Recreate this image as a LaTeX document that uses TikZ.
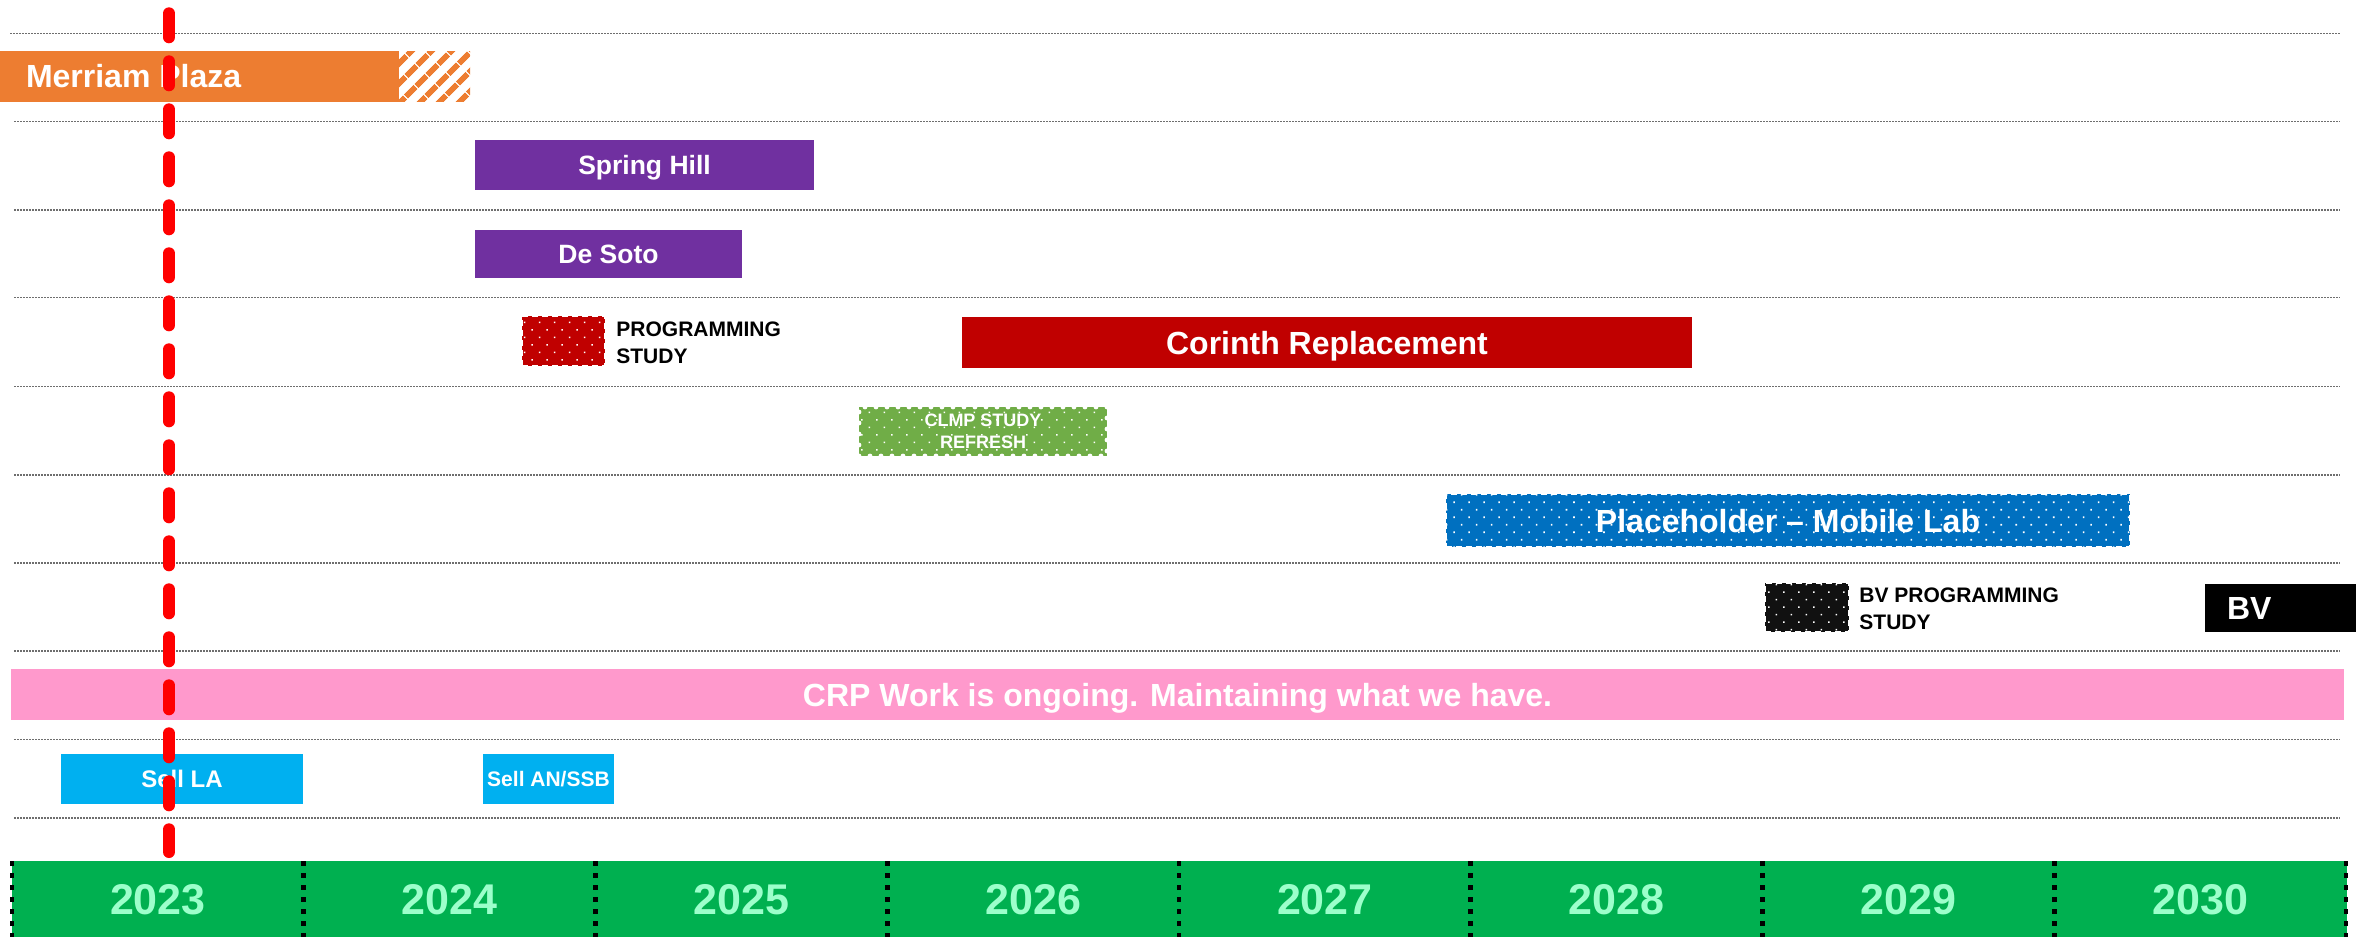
\documentclass[tikz,border=0pt]{standalone}
\usepackage{fontspec}
\setmainfont{Liberation Sans}
\usetikzlibrary{patterns.meta}
\definecolor{mporange}{HTML}{ED7D31}
\definecolor{mppurple}{HTML}{7030A0}
\definecolor{mpred}{HTML}{C00000}
\definecolor{mpgreen}{HTML}{70AD47}
\definecolor{mpblue}{HTML}{0070C0}
\definecolor{mpblack}{HTML}{111111}
\definecolor{mppink}{HTML}{FF99CC}
\definecolor{mpcyan}{HTML}{00B0F0}
\definecolor{mpbar}{HTML}{00B050}
\definecolor{mpyear}{HTML}{9CFFCB}
\definecolor{mpline}{HTML}{FF0000}
\definecolor{mpgrid}{HTML}{6E6E6E}
\begin{document}
\begin{tikzpicture}[x=0.5pt,y=-0.5pt,
  bar/.style={rectangle, inner sep=0pt, outer sep=0pt, text=white, align=center},
  dotbox/.style={bar, preaction={fill=#1}, pattern={Dots[angle=45,distance=5.3pt,radius=0.55pt]}, pattern color=white, draw=white, line width=0.8pt, dash pattern=on 3pt off 2pt},
  lblA/.style={font=\fontsize{16pt}{19pt}\selectfont\bfseries, text height=11.5pt, text depth=0pt},
  lblB/.style={font=\fontsize{13.25pt}{16pt}\selectfont\bfseries, text height=9.5pt, text depth=0pt},
  lblC/.style={font=\fontsize{12pt}{14pt}\selectfont\bfseries, text height=8.6pt, text depth=0pt},
  lblD/.style={font=\fontsize{10.5pt}{12.5pt}\selectfont\bfseries, text height=7.5pt, text depth=0pt},
  lblYear/.style={font=\fontsize{21.5pt}{25pt}\selectfont\bfseries, text height=15.4pt, text depth=0pt, text=mpyear, inner sep=0pt},
  sidenote/.style={font=\fontsize{10.5pt}{13.5pt}\selectfont\bfseries, align=left, inner sep=0pt, anchor=west, text=black},
  gridline/.style={draw=mpgrid, line width=0.75pt, dash pattern=on 0.75pt off 0.75pt},
  divider/.style={draw=black, line width=2.3pt, dash pattern=on 2.3pt off 3.7pt},
  redline/.style={draw=mpline, line width=6pt, line cap=round, dash pattern=on 12pt off 12pt}
]
\useasboundingbox (0,0) rectangle (2356,937);

% dotted row separators
\draw[gridline] (10,33.3) -- (2340,33.3);
\foreach \yy in {121.7,210,297.4,386.5,474.8,562.8,651,739.3,817.8}
  \draw[gridline] (14,\yy) -- (2340,\yy);

% Merriam Plaza
\node[bar, fill=mporange, minimum width=199.5pt, minimum height=25.25pt] (mp) at (199.5,76.25) {};
\node[bar, pattern={Lines[angle=45,distance=7.4pt,line width=3pt]}, pattern color=mporange, minimum width=35.5pt, minimum height=25.25pt] (mphatch) at (434.5,76.25) {};
\node[bar, lblA, anchor=west] (mptext) at (26,76.25) {Merriam Plaza};

% Spring Hill, De Soto
\node[bar, lblB, fill=mppurple, minimum width=169.5pt, minimum height=24.75pt] (spring) at (644.5,164.75) {Spring Hill};
\node[bar, lblB, fill=mppurple, minimum width=133.5pt, minimum height=24.25pt] (desoto) at (608.5,253.75) {De Soto};

% Corinth
\node[dotbox=mpred, minimum width=41.5pt, minimum height=25pt] (corstudy) at (563.5,341) {};
\node[sidenote] (corstudytext) at (616,342.4) {PROGRAMMING\\STUDY};
\node[bar, lblA, fill=mpred, minimum width=365pt, minimum height=25.5pt] (corinth) at (1327,342.5) {Corinth Replacement};

% CLMP
\node[bar, preaction={fill=mpgreen}, pattern={Dots[angle=45,distance=5.3pt,radius=0.55pt]}, pattern color=white,
      draw=white, line width=2.4pt, line cap=round, dash pattern=on 0pt off 5.5pt,
      minimum width=124pt, minimum height=24.5pt,
      font=\fontsize{9pt}{11.2pt}\selectfont\bfseries] (clmp) at (983,431.5) {CLMP STUDY\\REFRESH};

% Mobile lab
\node[dotbox=mpblue, lblA, minimum width=342pt, minimum height=26.5pt] (mobile) at (1788,520.5) {Placeholder -- Mobile Lab};

% BV
\node[dotbox=mpblack, minimum width=42pt, minimum height=24.5pt] (bvstudy) at (1807,607.5) {};
\node[sidenote] (bvstudytext) at (1859,609) {BV PROGRAMMING\\STUDY};
\node[bar, fill=black, minimum width=75.5pt, minimum height=24pt] (bv) at (2280.5,608) {};
\node[bar, lblA, anchor=west] (bvtext) at (2227,608) {BV};

% CRP
\node[bar, lblA, fill=mppink, minimum width=1166.5pt, minimum height=25.5pt] (crp) at (1177.5,694.5) {CRP Work is ongoing. Maintaining what we have.};

% Sell
\node[bar, lblC, fill=mpcyan, minimum width=121pt, minimum height=25pt] (sellla) at (182,779) {Sell LA};
\node[bar, lblD, fill=mpcyan, minimum width=65.5pt, minimum height=25pt] (sellan) at (548.5,779) {Sell AN/SSB};

% year bar
\node[bar, fill=mpbar, minimum width=1167.5pt, minimum height=38pt] (years) at (1179.5,899) {};
\foreach \yr [count=\i from 0] in {2023,2024,2025,2026,2027,2028,2029,2030}
  \node[lblYear] (y\yr) at ({12+291.75*(\i+0.5)},899) {\yr};
\foreach \i in {0,...,8}
  \draw[divider] ({12+291.75*\i},861) -- ++(0,76);

% today line
\coordinate (rtop) at (169,13.3);
\coordinate (rbot) at (169,852);
\draw[redline] (rtop) -- (rbot);
\end{tikzpicture}
\end{document}
